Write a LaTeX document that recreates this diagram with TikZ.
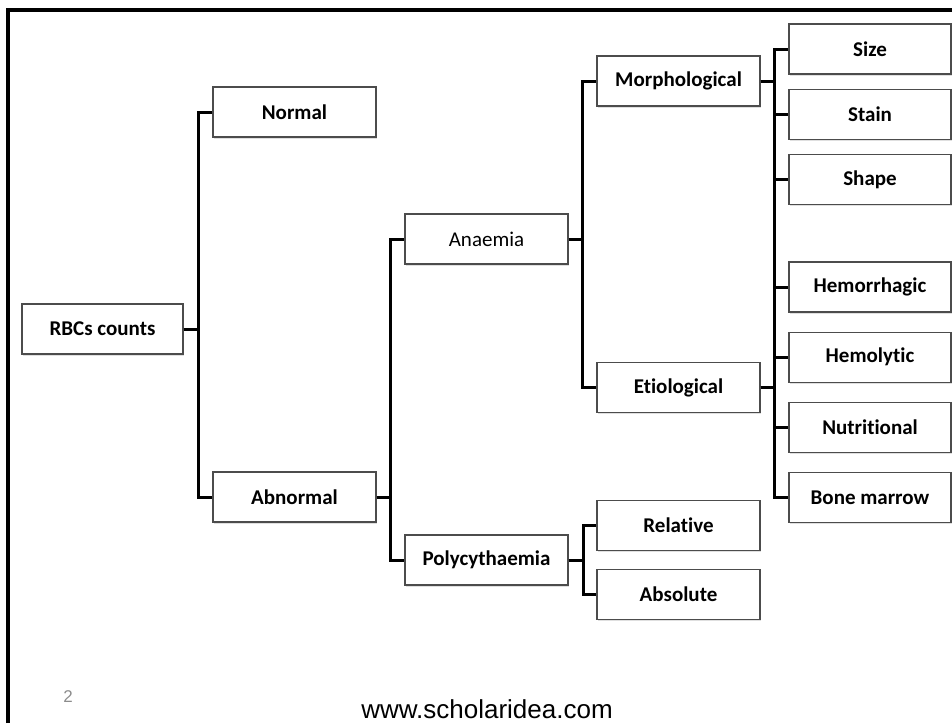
\documentclass[tikz,border=0pt]{standalone}
\usepackage{fontspec}
\setmainfont{Carlito}[Ligatures=NoCommon]
\newfontfamily\webfont{Liberation Sans}
\usetikzlibrary{positioning, shadows}

\tikzset{
    box/.style={draw=black!70, line width=1.2pt, fill=white,
        minimum width=163pt, minimum height=50pt, inner sep=0pt,
        font=\fontsize{21}{25}\selectfont\bfseries,
        drop shadow={shadow xshift=1pt, shadow yshift=-1.5pt, opacity=0.25}},
    rbox/.style={box, minimum width=162pt},
    link/.style={line width=3pt},
}

\begin{document}
\begin{tikzpicture}[x=1pt, y=-1pt]
    \useasboundingbox (0,0) rectangle (952,723);
    \draw[line width=3.2pt] (8,723) -- (8,10) -- (952,10);

    \node[box, minimum width=161pt] (rbc) at (102.5,329) {RBCs counts};
    \node[box] (nm) at (294.5,112) {Normal};
    \node[box] (ab) at (294.5,497) {Abnormal};
    \node[box, font=\fontsize{21}{25}\selectfont] (an) at (486.5,239) {Anaemia};
    \node[box] (po) at (486.5,560) {Polycythaemia};
    \node[box] (mo) at (678.5,81) {Morphological};
    \node[box] (et) at (678.5,387.5) {Etiological};
    \node[box] (re) at (678.5,525.5) {Relative};
    \node[box] (abs) at (678.5,594.5) {Absolute};

    \node[rbox] (sz) at (870,49) {Size};
    \node[rbox, below=14pt of sz] (st) {Stain};
    \node[rbox, below=14pt of st] (sh) {Shape};
    \node[rbox] (hr) at (870,287) {Hemorrhagic};
    \node[rbox, below=19pt of hr] (hl) {Hemolytic};
    \node[rbox, below=19pt of hl] (nu) {Nutritional};
    \node[rbox, below=19pt of nu] (bm) {Bone marrow};

    % elbow connectors
    \foreach \c in {nm,ab} \draw[link] (rbc.east) -- ++(15,0) |- (\c.west);
    \foreach \c in {an,po} \draw[link] (ab.east) -- ++(14,0) |- (\c.west);
    \foreach \c in {mo,et} \draw[link] (an.east) -- ++(14,0) |- (\c.west);
    \foreach \c in {re,abs} \draw[link] (po.east) -- ++(15,0) |- (\c.west);
    \foreach \c in {sz,st,sh} \draw[link] (mo.east) -- ++(14,0) |- (\c.west);
    \foreach \c in {hr,hl,nu,bm} \draw[link] (et.east) -- ++(14,0) |- (\c.west);
    \coordinate (mbus) at ([xshift=14pt]mo.east);
    \draw[link] (mbus |- sz.west) -- (mbus |- bm.west);

    \node[text=black!45, font=\webfont\fontsize{17}{20}\selectfont] (pg) at (68,697) {2};
    \node[font=\webfont\fontsize{26}{30}\selectfont] (web) at (487,709) {www.scholaridea.com};
\end{tikzpicture}
\end{document}
